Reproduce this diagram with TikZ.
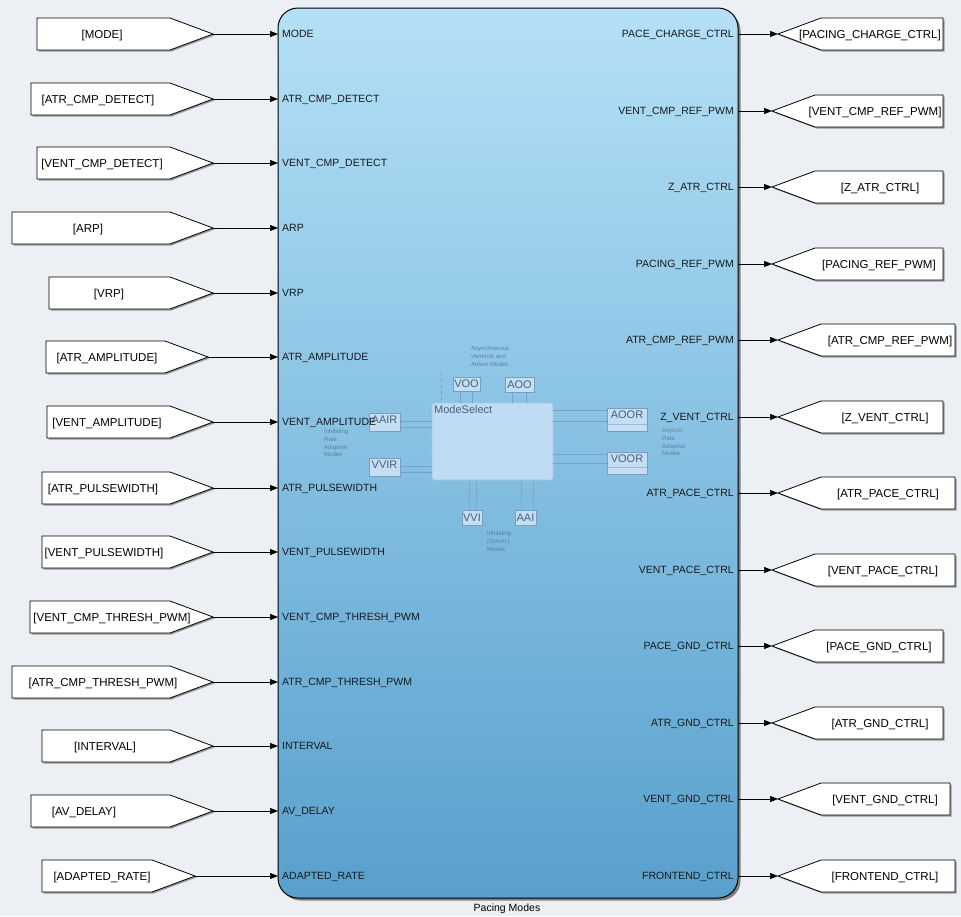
\documentclass[tikz,border=0pt]{standalone}
\usepackage{fontspec}
\setmainfont{Liberation Sans}
\usetikzlibrary{arrows.meta,calc}
\definecolor{bg}{RGB}{236,240,245}
\definecolor{blktop}{RGB}{180,224,247}
\definecolor{blkmid}{RGB}{150,206,236}
\definecolor{blkbot}{RGB}{88,160,205}
\definecolor{minifill}{RGB}{196,222,244}
\definecolor{msfill}{RGB}{192,219,244}
\definecolor{miniedge}{RGB}{125,155,190}
\definecolor{minitext}{RGB}{72,96,126}
\definecolor{notetext}{RGB}{95,125,160}
\definecolor{minilink}{RGB}{120,160,200}
\begin{document}
\begin{tikzpicture}[x=1pt,y=-1pt,
  tagshape/.style={draw=black, fill=white, line width=0.8pt, line join=miter},
  tagshadow/.style={fill=black!40, draw=none},
  tagtext/.style={font=\fontsize{11.5}{13}\selectfont, inner sep=0pt, anchor=base},
  portlbl/.style={font=\fontsize{10.5}{12}\selectfont, inner sep=0pt, text=black!90},
  sig/.style={draw=black, line width=0.7pt, -{Triangle[length=8pt,width=6pt]}},
  minibox/.style={draw=miniedge, fill=minifill, line width=0.6pt, inner sep=0pt},
  minitxt/.style={text=minitext, font=\fontsize{11}{12}\selectfont, inner sep=0pt},
  note/.style={text=notetext, font=\fontsize{6}{7.8}\selectfont, align=left, inner sep=0pt, anchor=north west},
  miniline/.style={draw=minilink, line width=0.5pt}
]
\fill[bg] (0,0) rectangle (961,916);
\useasboundingbox (0,0) rectangle (961,916);

% main block
\node[fill=black!50, draw=none, rounded corners=20pt, minimum width=460pt, minimum height=890pt] (blkshadow) at (510.5,455.5) {};
\node[draw=black, line width=1pt, rounded corners=20pt, top color=blktop, middle color=blkmid, bottom color=blkbot, minimum width=460pt, minimum height=890pt, inner sep=0pt] (blk) at (508,453) {};
\node[font=\fontsize{10.5}{12}\selectfont, inner sep=0pt] (blkname) at (507,909) {Pacing Modes};

% inner mini diagram
\node[minibox, draw=miniedge!60, fill=msfill, rounded corners=3pt, minimum width=121pt, minimum height=77pt] (ms) at (492.5,441.5) {};
\node[minitxt, anchor=north west] (mslbl) at (434,405) {ModeSelect};

\node[minibox, minimum width=27pt, minimum height=14pt] (voo) at (466.5,384) {};
\node[minitxt] (vootxt) at (voo) {VOO};
\node[minibox, minimum width=29pt, minimum height=15pt] (aoo) at (519.5,384.5) {};
\node[minitxt] (aootxt) at (aoo) {AOO};
\node[minibox, minimum width=20pt, minimum height=15pt] (vvi) at (472,517.5) {};
\node[minitxt] (vvitxt) at (vvi) {VVI};
\node[minibox, minimum width=21pt, minimum height=15pt] (aai) at (525.5,517.5) {};
\node[minitxt] (aaitxt) at (aai) {AAI};
\node[minibox, minimum width=31pt, minimum height=18pt] (aair) at (384.5,422) {};
\node[minitxt] (aairtxt) at (384.5,420) {AAIR};
\node[minibox, minimum width=31pt, minimum height=18pt] (vvir) at (384.5,467) {};
\node[minitxt] (vvirtxt) at (384.5,464.5) {VVIR};
\node[minibox, minimum width=40pt, minimum height=23pt] (aoor) at (627,419.5) {};
\node[minitxt] (aoortxt) at (627,415) {AOOR};
\node[minibox, minimum width=40pt, minimum height=22pt] (voor) at (627,463) {};
\node[minitxt] (voortxt) at (627,459) {VOOR};
\draw[miniline, draw=miniedge!70] (aoor.west |- 0,424) -- (aoor.east |- 0,424);
\draw[miniline, draw=miniedge!70] (voor.west |- 0,467) -- (voor.east |- 0,467);

% mini links
\draw[miniline] (aair.east |- 0,421) -- (ms.west |- 0,421);
\draw[miniline] (aair.east |- 0,427) -- (ms.west |- 0,427);
\draw[miniline] (vvir.east |- 0,466) -- (ms.west |- 0,466);
\draw[miniline] (vvir.east |- 0,472) -- (ms.west |- 0,472);
\draw[miniline] (ms.east |- 0,410) -- (aoor.west |- 0,410);
\draw[miniline] (ms.east |- 0,421) -- (aoor.west |- 0,421);
\draw[miniline] (ms.east |- 0,454) -- (voor.west |- 0,454);
\draw[miniline] (ms.east |- 0,463) -- (voor.west |- 0,463);
\draw[miniline] (460,391) -- (ms.north -| 460,0);
\draw[miniline] (472,391) -- (ms.north -| 472,0);
\draw[miniline] (512,392) -- (ms.north -| 512,0);
\draw[miniline] (526,392) -- (ms.north -| 526,0);
\draw[miniline, densely dotted] (ms.south -| 469,0) -- (vvi.north -| 469,0);
\draw[miniline, densely dotted] (ms.south -| 476,0) -- (vvi.north -| 476,0);
\draw[miniline, densely dotted] (ms.south -| 521,0) -- (aai.north -| 521,0);
\draw[miniline, densely dotted] (ms.south -| 533,0) -- (aai.north -| 533,0);
\coordinate (dtop) at (441,373);
\draw[miniline, dashed, draw=miniedge] (dtop) -- (ms.north -| dtop);

\node[note] (n1) at (471,346) {Asynchronous\\Ventricle and\\Atrium Modes};
\node[note] (n2) at (324,429) {Inhibiting\\Rate\\Adaptive\\Modes};
\node[note] (n3) at (662,428) {Asynch\\Rate\\Adaptive\\Modes};
\node[note] (n4) at (487,531) {Inhibiting\\(Synch.)\\Modes};

% inputs
\foreach \nm/\l/\t/\y/\c/\txt in {
 mode/37/213/34/102/MODE,
 acd/31/213/99/98/ATR\_CMP\_DETECT,
 vcd/37/213/163/102/VENT\_CMP\_DETECT,
 arp/12/213/228/88/ARP,
 vrp/49/213/293/109/VRP,
 aamp/46/208/357/107/ATR\_AMPLITUDE,
 vamp/47/213/422/107/VENT\_AMPLITUDE,
 apw/42/213/488/103/ATR\_PULSEWIDTH,
 vpw/42/213/552/104/VENT\_PULSEWIDTH,
 vct/30/213/617/112/VENT\_CMP\_THRESH\_PWM,
 act/12/213/682/103/ATR\_CMP\_THRESH\_PWM,
 int/42/213/746/105/INTERVAL,
 avd/31/213/811/84/AV\_DELAY,
 ar/42/195/876/102/ADAPTED\_RATE}{
  \fill[tagshadow] ({\l+1.5},{\y-14.5}) -- ({\t-43+1.5},{\y-14.5}) -- ({\t+1.5},{\y+1.5}) -- ({\t-43+1.5},{\y+17.5}) -- ({\l+1.5},{\y+17.5}) -- cycle;
  \draw[tagshape] (\l,{\y-16}) -- ({\t-43},{\y-16}) -- (\t,\y) -- ({\t-43},{\y+16}) -- (\l,{\y+16}) -- cycle;
  \node[tagtext] (T\nm) at (\c,{\y+4.2}) {[\txt]};
  \coordinate (T\nm tip) at (\t,\y);
  \coordinate (P\nm) at (278,\y);
  \node[portlbl, anchor=base west] (L\nm) at (282,{\y+3.9}) {\txt};
  \draw[sig] (T\nm tip) -- (P\nm);
}

% outputs
\foreach \nm/\t/\r/\y/\c/\lbl/\txt in {
 pcc/778/943/34/870/PACE\_CHARGE\_CTRL/PACING\_CHARGE\_CTRL,
 vcr/772/943/111/875/VENT\_CMP\_REF\_PWM/VENT\_CMP\_REF\_PWM,
 zat/772/943/187/880/Z\_ATR\_CTRL/Z\_ATR\_CTRL,
 prp/772/943/264/879/PACING\_REF\_PWM/PACING\_REF\_PWM,
 acr/778/955/340/890/ATR\_CMP\_REF\_PWM/ATR\_CMP\_REF\_PWM,
 zvc/778/943/417/885/Z\_VENT\_CTRL/Z\_VENT\_CTRL,
 apc/778/955/493/888/ATR\_PACE\_CTRL/ATR\_PACE\_CTRL,
 vpc/772/955/570/883/VENT\_PACE\_CTRL/VENT\_PACE\_CTRL,
 pgc/772/943/646/879/PACE\_GND\_CTRL/PACE\_GND\_CTRL,
 agc/772/943/723/880/ATR\_GND\_CTRL/ATR\_GND\_CTRL,
 vgc/778/950/799/885/VENT\_GND\_CTRL/VENT\_GND\_CTRL,
 fec/778/955/876/885/FRONTEND\_CTRL/FRONTEND\_CTRL}{
  \fill[tagshadow] ({\t+1.5},{\y+1.5}) -- ({\t+43+1.5},{\y-14.5}) -- ({\r+1.5},{\y-14.5}) -- ({\r+1.5},{\y+17.5}) -- ({\t+43+1.5},{\y+17.5}) -- cycle;
  \draw[tagshape] (\t,\y) -- ({\t+43},{\y-16}) -- (\r,{\y-16}) -- (\r,{\y+16}) -- ({\t+43},{\y+16}) -- cycle;
  \node[tagtext] (T\nm) at (\c,{\y+4.2}) {[\txt]};
  \coordinate (T\nm tip) at (\t,\y);
  \coordinate (P\nm) at (738,\y);
  \node[portlbl, anchor=base east] (L\nm) at (734,{\y+3.9}) {\lbl};
  \draw[sig] (P\nm) -- (T\nm tip);
}
\end{tikzpicture}
\end{document}
